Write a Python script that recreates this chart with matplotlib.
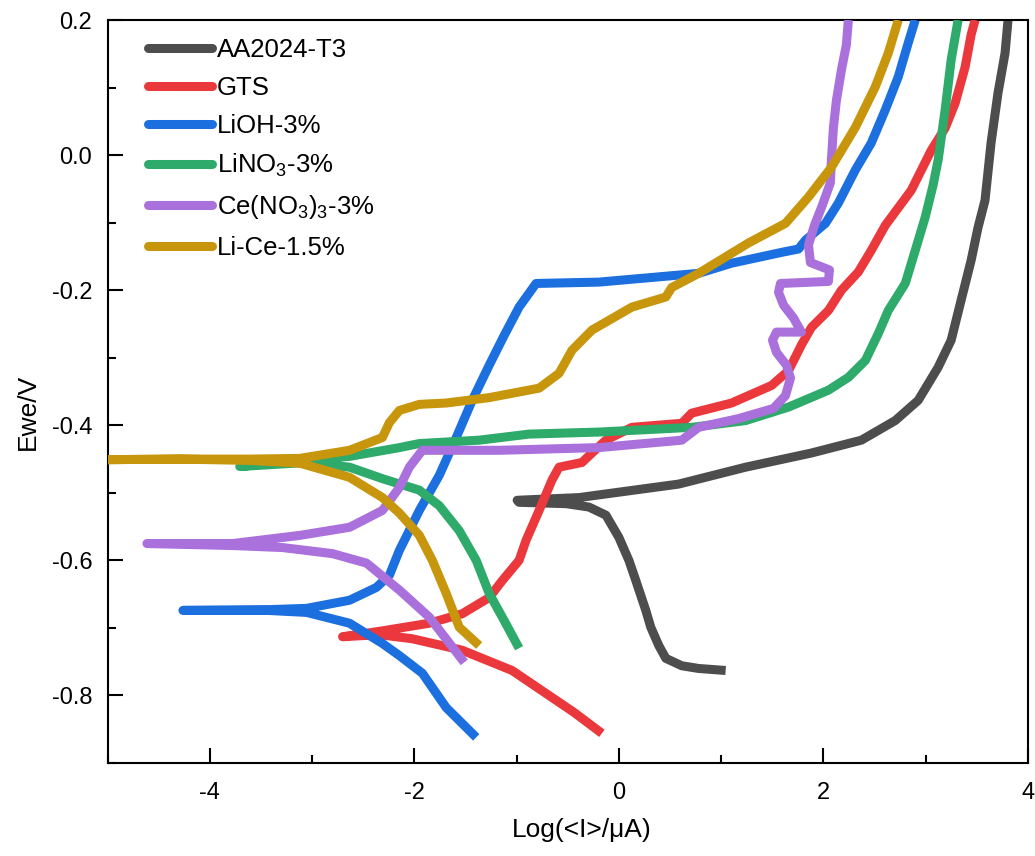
import matplotlib
matplotlib.use("Agg")
import matplotlib.pyplot as plt
from matplotlib.ticker import MultipleLocator

plt.rcParams['font.family'] = ['Liberation Sans', 'DejaVu Sans']
plt.rcParams['mathtext.fontset'] = 'custom'
plt.rcParams['mathtext.rm'] = 'Liberation Sans'
plt.rcParams['mathtext.it'] = 'Liberation Sans:italic'
plt.rcParams['mathtext.default'] = 'regular'

# Potentiodynamic polarization curves: log current (x) vs potential (y)
labels = ["AA2024-T3", "GTS", "LiOH-3%", "LiNO$_3$-3%", "Ce(NO$_3$)$_3$-3%", "Li-Ce-1.5%"]
colors = ["#4d4d4d", "#eb383c", "#1c6fde", "#2eaa6a", "#aa70dc", "#c8960c"]

aa_x = [1.044, 0.780, 0.615, 0.459, 0.390, 0.312, 0.263, 0.166, 0.098, 0.0, -0.127, -0.293,
        -0.517, -0.976, -0.995, -0.390, 0.0, 0.585, 1.239, 1.883, 2.371, 2.702, 2.927,
        3.122, 3.249, 3.346, 3.444, 3.512, 3.580, 3.639, 3.707, 3.776, 3.805]
aa_y = [-0.763, -0.760, -0.756, -0.745, -0.726, -0.699, -0.674, -0.630, -0.600, -0.566, -0.533,
        -0.521, -0.516, -0.514, -0.511, -0.507, -0.499, -0.487, -0.462, -0.441, -0.422, -0.393,
        -0.363, -0.314, -0.274, -0.215, -0.156, -0.107, -0.067, 0.018, 0.092, 0.151, 0.2]

gts_x = [-0.166, -0.439, -0.712, -1.044, -1.532, -2.020, -2.341, -2.702, -2.341, -1.854,
         -1.532, -1.268, -1.141, -0.976, -0.907, -0.780, -0.654, -0.585, -0.361, -0.263,
         -0.127, 0.127, 0.615, 0.712, 1.102, 1.493, 1.659, 1.785, 1.883, 2.049, 2.176,
         2.341, 2.468, 2.605, 2.859, 3.054, 3.190, 3.288, 3.385, 3.444, 3.483]
gts_y = [-0.856, -0.825, -0.797, -0.763, -0.733, -0.716, -0.710, -0.713, -0.705, -0.693,
         -0.679, -0.655, -0.630, -0.600, -0.570, -0.526, -0.481, -0.462, -0.455, -0.441,
         -0.422, -0.403, -0.397, -0.382, -0.367, -0.341, -0.319, -0.281, -0.255, -0.230,
         -0.200, -0.173, -0.141, -0.104, -0.052, 0.007, 0.040, 0.077, 0.130, 0.178, 0.2]

lioh_x = [-1.395, -1.688, -1.922, -2.146, -2.312, -2.634, -3.054, -3.444, -4.263, -3.444,
          -3.054, -2.634, -2.371, -2.244, -2.146, -1.951, -1.756, -1.590, -1.434, -1.268,
          -1.122, -0.976, -0.810, -0.195, 0.780, 1.102, 1.590, 1.756, 1.824, 2.020, 2.146,
          2.312, 2.468, 2.605, 2.732, 2.829, 2.898]
lioh_y = [-0.862, -0.818, -0.767, -0.741, -0.723, -0.693, -0.677, -0.674, -0.674, -0.673,
          -0.671, -0.659, -0.640, -0.622, -0.585, -0.526, -0.474, -0.418, -0.363, -0.311,
          -0.267, -0.225, -0.190, -0.188, -0.175, -0.160, -0.144, -0.139, -0.126, -0.101,
          -0.071, -0.022, 0.018, 0.067, 0.116, 0.166, 0.2]

lino3_x = [-0.976, -1.122, -1.268, -1.395, -1.561, -1.756, -1.951, -2.312, -2.634, -3.054,
           -3.707, -3.122, -2.634, -2.146, -1.951, -1.366, -0.878, -0.195, 0.712, 1.239,
           1.659, 2.049, 2.244, 2.410, 2.537, 2.634, 2.800, 2.898, 2.995, 3.073, 3.122,
           3.190, 3.249, 3.317]
lino3_y = [-0.730, -0.689, -0.649, -0.600, -0.556, -0.519, -0.496, -0.479, -0.462, -0.455,
           -0.461, -0.452, -0.446, -0.433, -0.427, -0.422, -0.413, -0.410, -0.403, -0.393,
           -0.373, -0.348, -0.329, -0.304, -0.264, -0.230, -0.190, -0.141, -0.092, -0.044,
           -0.007, 0.067, 0.141, 0.2]

ce_x = [-1.512, -1.854, -2.146, -2.468, -2.800, -3.288, -3.776, -4.615, -3.776, -3.122,
        -2.634, -2.312, -2.146, -2.049, -1.922, -1.171, -0.195, 0.615, 0.780, 1.171, 1.512,
        1.629, 1.678, 1.639, 1.541, 1.502, 1.541, 1.785, 1.707, 1.610, 1.561, 1.580, 2.049,
        2.059, 1.873, 1.854, 1.912, 1.990, 2.068, 2.078, 2.098, 2.127, 2.176, 2.224, 2.244]
ce_y = [-0.751, -0.684, -0.644, -0.604, -0.590, -0.581, -0.578, -0.575, -0.575, -0.563,
        -0.551, -0.526, -0.492, -0.462, -0.437, -0.437, -0.433, -0.422, -0.403, -0.390,
        -0.375, -0.356, -0.330, -0.311, -0.292, -0.274, -0.262, -0.262, -0.241, -0.222,
        -0.203, -0.190, -0.187, -0.170, -0.159, -0.133, -0.104, -0.074, -0.041, -0.007,
        0.041, 0.081, 0.126, 0.163, 0.2]

lice_x = [-1.366, -1.561, -1.688, -1.824, -1.951, -2.146, -2.312, -2.634, -3.122, -3.610,
          -4.293, -5.100, -4.293, -3.610, -3.122, -2.634, -2.312, -2.244, -2.146, -1.951,
          -1.688, -1.268, -0.780, -0.585, -0.459, -0.263, 0.127, 0.459, 0.517, 0.780, 1.268,
          1.629, 1.854, 2.078, 2.312, 2.507, 2.634, 2.732]
lice_y = [-0.726, -0.699, -0.649, -0.600, -0.563, -0.530, -0.507, -0.477, -0.456, -0.452,
          -0.450, -0.451, -0.450, -0.450, -0.449, -0.437, -0.418, -0.396, -0.378, -0.369,
          -0.367, -0.359, -0.345, -0.323, -0.289, -0.259, -0.225, -0.210, -0.196, -0.175,
          -0.130, -0.101, -0.062, -0.018, 0.041, 0.101, 0.151, 0.2]

series_x = [aa_x, gts_x, lioh_x, lino3_x, ce_x, lice_x]
series_y = [aa_y, gts_y, lioh_y, lino3_y, ce_y, lice_y]

fig = plt.figure(figsize=(10.35, 8.56), dpi=100)
ax = fig.add_axes([0.1039, 0.1086, 0.8893, 0.868])

for i, (xs, ys, lab, col) in enumerate(zip(series_x, series_y, labels, colors)):
    ax.plot(xs, ys, color=col, lw=6.5, label=lab, solid_joinstyle='round',
            solid_capstyle='butt', zorder=2 + i)

ax.set_xlim(-5, 4)
ax.set_ylim(-0.9, 0.2)
ax.xaxis.set_minor_locator(MultipleLocator(1))
ax.yaxis.set_minor_locator(MultipleLocator(0.1))
ax.set_yticks([-0.8, -0.6, -0.4, -0.2, 0.0, 0.2])
ax.set_yticklabels(["-0.8", "-0.6", "-0.4", "-0.2", "0.0", "0.2"])
ax.set_xticks([-4, -2, 0, 2, 4])
ax.set_xticklabels(["-4", "-2", "0", "2", "4"])

ax.tick_params(which='major', direction='in', length=11, width=1.5, labelsize=17)
ax.tick_params(axis='x', which='major', pad=14)
ax.tick_params(axis='y', which='major', pad=11)
ax.tick_params(which='minor', direction='in', length=5.5, width=1.5)
ax.tick_params(axis='x', which='both', top=False)
ax.tick_params(axis='y', which='both', right=False)
for sp in ax.spines.values():
    sp.set_linewidth(1.5)

ax.set_xlabel("Log(<I>/μA)", fontsize=19)
ax.set_ylabel("Ewe/V", fontsize=19)
ax.xaxis.set_label_coords(0.515, -0.074)
ax.yaxis.set_label_coords(-0.074, 0.472)

leg = ax.legend(loc='upper left', bbox_to_anchor=(0.027, 0.997), frameon=False,
                fontsize=18.5, handlelength=2.5, handletextpad=0.2, labelspacing=0.55,
                borderaxespad=0.2)
for ln in leg.get_lines():
    ln.set_linewidth(6.5)
    ln.set_solid_capstyle('round')

fig.savefig("out.png", dpi=100)
